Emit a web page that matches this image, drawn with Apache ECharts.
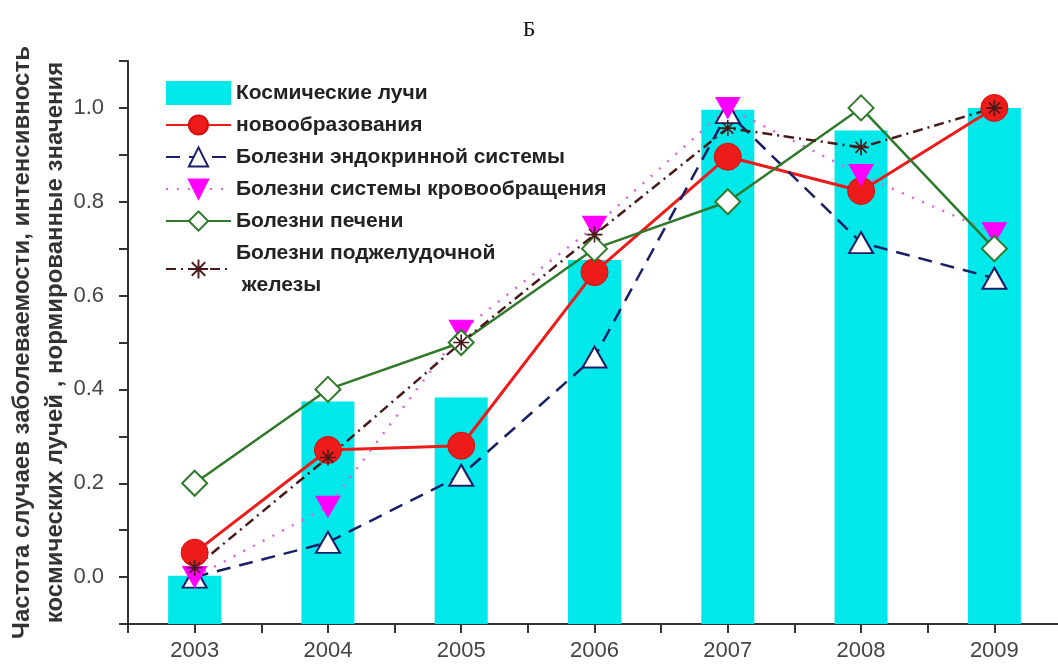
<!DOCTYPE html>
<html>
<head>
<meta charset="utf-8">
<script src="https://cdn.jsdelivr.net/npm/echarts@6/dist/echarts.min.js"></script>
<style>
  html, body { margin: 0; padding: 0; background: #fff; }
  #chart { width: 1058px; height: 668px; }
</style>
</head>
<body>
<div id="chart"></div>
<script>
const years = [2003, 2004, 2005, 2006, 2007, 2008, 2009];
const cosmicRays = [0.003, 0.374, 0.383, 0.676, 0.996, 0.952, 1.0];
const neoplasms = [0.052, 0.271, 0.28, 0.65, 0.896, 0.823, 1.0];
const endocrine = [0.0, 0.074, 0.217, 0.469, 0.99, 0.713, 0.637];
const circulatory = [0.0, 0.15, 0.525, 0.747, 1.0, 0.857, 0.733];
const liver = [0.2, 0.4, 0.5, 0.7, 0.8, 1.0, 0.7];
const pancreas = [0.02, 0.255, 0.5, 0.73, 0.957, 0.916, 1.0];

const yMin = -0.1;
const yMax = 1.1;

const names = [
  "Космические лучи",
  "новообразования",
  "Болезни эндокринной системы",
  "Болезни системы кровообращения",
  "Болезни печени",
  "Болезни поджелудочной\n железы"
];

// asterisk marker built from thin bars
const asterisk = "path://M-1,-10L1,-10L1,10L-1,10Z M-10,-1L10,-1L10,1L-10,1Z " +
  "M-6.3,-7.7L7.7,6.3L6.3,7.7L-7.7,-6.3Z M-7.7,6.3L6.3,-7.7L7.7,-6.3L-6.3,7.7Z";

function pairs(vals) {
  return years.map((y, i) => [y, vals[i]]);
}

const cyan = "#00e8ea";
const font = "Liberation Sans";

const chart = echarts.init(document.getElementById("chart"));

chart.setOption({
  animation: false,
  title: {
    text: "Б",
    left: "center",
    top: 14,
    textStyle: { fontFamily: "Liberation Serif", fontWeight: "normal", fontSize: 22, color: "#111" }
  },
  legend: {
    orient: "vertical",
    left: 160,
    top: 72,
    itemWidth: 65,
    itemHeight: 24,
    itemGap: 0,
    textStyle: {
      fontFamily: font,
      fontWeight: "bold",
      fontSize: 21,
      color: "#222",
      lineHeight: 32
    },
    data: [{ name: names[0], icon: "rect" }].concat(names.slice(1))
  },
  grid: { left: 128, right: -3, top: 61, bottom: 44, outerBoundsMode: "none", containLabel: false },
  xAxis: {
    type: "value",
    min: 2002.5,
    max: 2009.5,
    interval: 0.5,
    splitLine: { show: false },
    axisLine: { show: true, onZero: false, lineStyle: { color: "#333", width: 2 } },
    axisTick: { show: true, length: 9, lineStyle: { color: "#333", width: 2 } },
    axisLabel: {
      margin: 16,
      fontFamily: font,
      fontSize: 22,
      color: "#444",
      formatter: v => (Math.abs(v - Math.round(v)) < 1e-6 ? String(Math.round(v)) : "")
    }
  },
  yAxis: {
    type: "value",
    min: yMin,
    max: yMax,
    interval: 0.1,
    splitLine: { show: false },
    axisLine: { show: true, onZero: false, lineStyle: { color: "#333", width: 2 } },
    axisTick: { show: true, length: 9, lineStyle: { color: "#333", width: 2 } },
    axisLabel: {
      margin: 24,
      fontFamily: font,
      fontSize: 22,
      color: "#444",
      formatter: v => {
        const k = Math.round(v * 10);
        return k >= 0 && k % 2 === 0 ? (k / 10).toFixed(1) : "";
      }
    },
    name: "Частота случаев заболеваемости, интенсивность\nкосмических лучей , нормированные значения",
    nameLocation: "middle",
    nameRotate: 90,
    nameGap: 56,
    nameMoveOverlap: false,
    nameTextStyle: {
      fontFamily: font,
      fontWeight: "bold",
      fontSize: 24,
      color: "#333",
      lineHeight: 33
    }
  },
  series: [
    {
      // lower part of each bar, from the axis bottom up to zero
      name: "base",
      type: "bar",
      stack: "rays",
      barWidth: 53,
      data: years.map(y => [y, yMin]),
      itemStyle: { color: cyan },
      silent: true
    },
    {
      name: names[0],
      type: "bar",
      stack: "rays",
      barWidth: 53,
      data: pairs(cosmicRays),
      itemStyle: { color: cyan }
    },
    {
      name: names[1],
      type: "line",
      data: pairs(neoplasms),
      symbol: "circle",
      symbolSize: 27,
      lineStyle: { color: "#ee1b1b", width: 3 },
      itemStyle: { color: "#ee1b1b", borderColor: "#d01010", borderWidth: 1 }
    },
    {
      name: names[2],
      type: "line",
      data: pairs(endocrine),
      symbol: "triangle",
      symbolSize: [24, 21],
      lineStyle: { color: "#1b1f66", width: 2.5, type: [14, 9] },
      itemStyle: { color: "#fff", borderColor: "#1b1f66", borderWidth: 2 }
    },
    {
      name: names[3],
      type: "line",
      data: pairs(circulatory),
      symbol: "triangle",
      symbolRotate: 180,
      symbolSize: [24, 21],
      lineStyle: { color: "#e060e0", width: 2.5, type: [2, 9] },
      itemStyle: { color: "#ff00ff", borderColor: "#ff00ff", borderWidth: 1 }
    },
    {
      name: names[4],
      type: "line",
      data: pairs(liver),
      symbol: "diamond",
      symbolSize: 25,
      lineStyle: { color: "#2f7a2a", width: 2.5 },
      itemStyle: { color: "#fff", borderColor: "#2f7a2a", borderWidth: 2 }
    },
    {
      name: names[5],
      type: "line",
      data: pairs(pancreas),
      symbol: asterisk,
      symbolSize: 16,
      lineStyle: { color: "#4a1a1a", width: 2.5, type: [10, 5, 2, 5] },
      itemStyle: { color: "#4a1a1a" }
    }
  ]
});
</script>
</body>
</html>
